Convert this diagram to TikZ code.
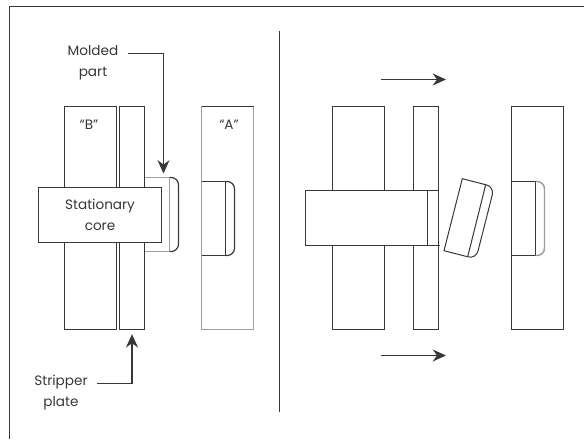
\documentclass[tikz,border=0pt]{standalone}
\usepackage{fontspec}
\setmainfont{Poppins}
\usepackage{tikz}
\usetikzlibrary{arrows.meta, positioning}
\colorlet{ink}{black!78}
\colorlet{pale}{black!38}

\begin{document}
\begin{tikzpicture}[
  x=0.75pt, y=-0.75pt,
  plate/.style={draw=ink, line width=0.9pt, fill=white, inner sep=0pt, outer sep=0pt,
    minimum width=39pt, minimum height=167.25pt},
  stripper/.style={plate, minimum width=18.75pt},
  corebox/.style={plate, minimum width=92.25pt, minimum height=41.25pt, align=center,
    font=\fontsize{10.2pt}{16pt}\selectfont, text=ink},
  insert/.style={plate, minimum width=18pt, minimum height=55.5pt},
  lbl/.style={font=\fontsize{10.2pt}{16pt}\selectfont, text=ink, align=center, inner sep=0pt},
  edge/.style={ink, line width=0.9pt},
  paleedge/.style={pale, line width=1.1pt},
  arr/.style={-{Stealth[length=10pt, width=9pt]}, ink, line width=0.9pt}]
\useasboundingbox (0,0) rectangle (584,439);
% frame and divider
\draw[edge] (9.5,439) -- (9.5,6.5) -- (584,6.5);
\coordinate (divtop) at (279.5,31);
\coordinate (divbot) at (279.5,412);
\draw[edge] (divtop) -- (divbot);

% left half
\node[plate] (bL) at (90.5,218) {};
\node[stripper, right=2.25pt of bL] (sL) {};
\node[plate, draw=pale] (aL) at (227.5,218) {};
\draw[edge] (aL.north west) -- (aL.north east);
\node[lbl, anchor=base] (quoteB) at (89,129) {“B”};
\node[lbl, anchor=base] (quoteA) at (229,129) {“A”};
% molded part
\draw[paleedge] (145,177.5) -- (169.5,177.5);
\draw[paleedge] (145,251.5) -- (169.5,251.5);
\draw[paleedge, line width=1.3pt] (169.5,177.5) -- (169.5,251.5);
\draw[edge, rounded corners=5.5pt] (169.5,177.5) -- (178.5,177.5) -- (178.5,251.5) -- (169.5,251.5);
\node[corebox] (cL) at (100,215) {Stationary\\core};
% insert in A
\node[insert] (iL) at (213.5,218.5) {};
\draw[edge, rounded corners=5.5pt] (iL.north east) -- (234.5,181.5) -- (234.5,255.5) -- (iL.south east);
\draw[paleedge] (201.5,106.5) -- (201.5,329.5);

\node[lbl] (molded) at (93,62.5) {Molded\\part};
\coordinate (mtail) at (128,53.5);
\coordinate (mtip) at (163.5,173.5);
\draw[arr] (mtail) -| (mtip);
\node[lbl] (plateL) at (61,392.5) {Stripper\\plate};
\coordinate (stail) at (97,383.5);
\draw[arr, shorten >=3.5pt] (stail) -| (sL);

% right half
\node[plate] (bR) at (358.5,218) {};
\node[stripper] (sR) at (426,218) {};
\node[plate] (aR) at (537.5,218) {};
\node[corebox, minimum width=91.5pt] (cR) at (366.5,218) {};
\draw[edge] (cR.north east) -- (sR.east |- cR.north);
\draw[edge] (cR.south east) -- (440,245.5);
% ejected part
\coordinate (pTL) at (462.3,178.7);
\coordinate (pTR) at (494.3,186.9);
\coordinate (pBR) at (476,258.9);
\coordinate (pBL) at (444,250.7);
\draw[edge, line width=0.75pt] (pTL) [rounded corners=6pt] -- (pTR) -- (pBR) [sharp corners] -- (pBL) -- cycle;
\draw[edge, line width=0.75pt] (485.7,184.7) -- (467.7,256.7);
% insert in A
\node[insert] (iR) at (523.5,218.5) {};
\draw[paleedge, rounded corners=5.5pt] (iR.north east) -- (544.5,181.5) -- (544.5,255.5) -- (iR.south east);

\coordinate (t1) at (381,79.5);
\coordinate (t2) at (446,79.5);
\draw[arr] (t1) -- (t2);
\coordinate (t3) at (381,355.5);
\coordinate (t4) at (446,355.5);
\draw[arr] (t3) -- (t4);
\end{tikzpicture}
\end{document}
